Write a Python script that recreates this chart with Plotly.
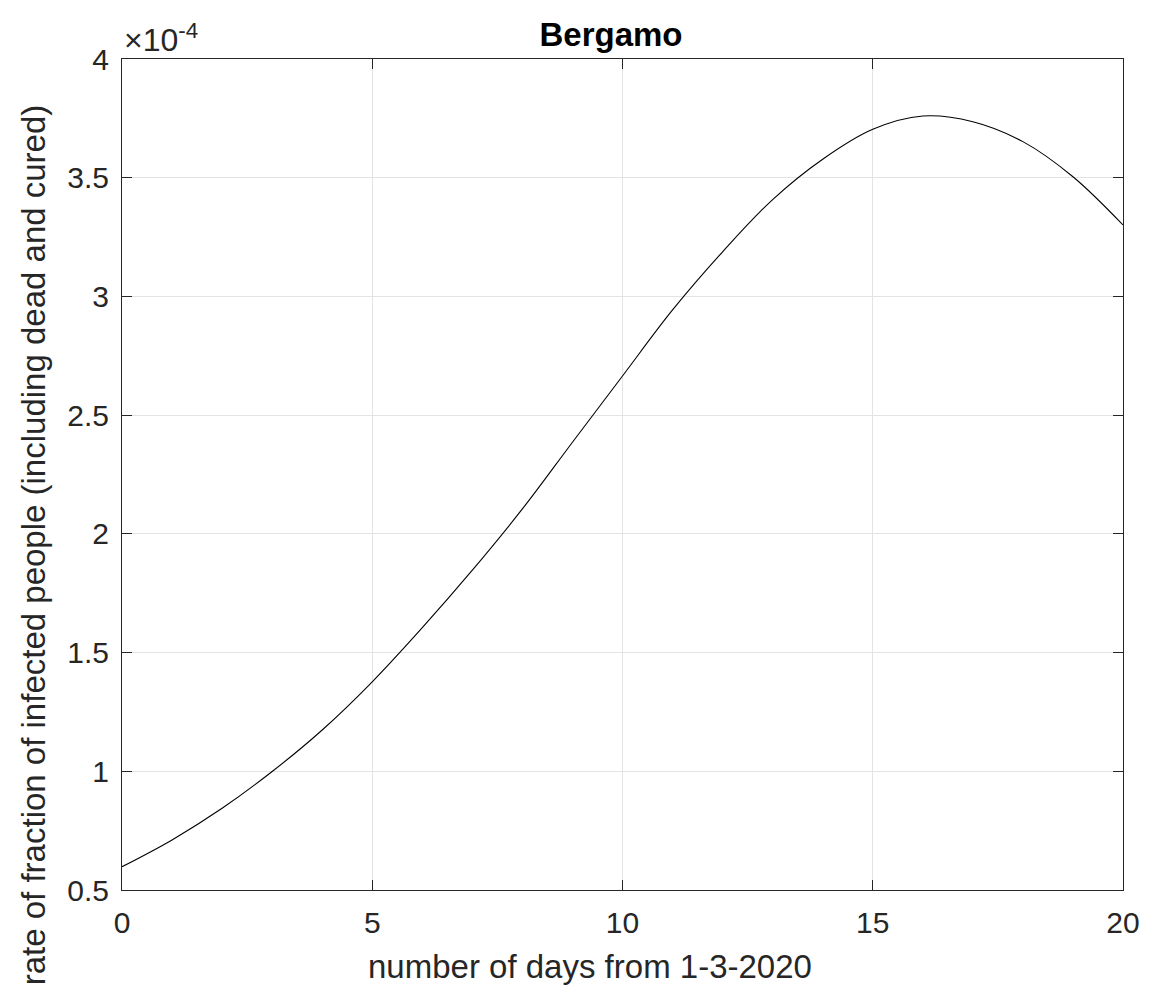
import plotly.graph_objects as go

# Data (values in units of 1e-4)
days = [0, 1, 2, 3, 4, 5, 6, 7, 8, 9, 10, 11, 12, 13, 14, 15, 16, 17, 18, 19, 20]
rate = [0.598, 0.711, 0.844, 0.999, 1.174, 1.377, 1.605, 1.847, 2.105, 2.386, 2.665,
        2.943, 3.188, 3.408, 3.578, 3.704, 3.760, 3.736, 3.652, 3.504, 3.301]

x_ticks = [0, 5, 10, 15, 20]
y_ticks = [0.5, 1, 1.5, 2, 2.5, 3, 3.5, 4]
y_ticktext = ["0.5", "1", "1.5", "2", "2.5", "3", "3.5", "4"]

FONT = "Liberation Sans, Arial, Helvetica, sans-serif"
AX = "#262626"

# page has an 8px body margin; figure is sized to fill the 1152x1000 window
W, H = 1144, 992
OFF = 8
L, R, T, B = 122 - OFF, 1152 - 1126, 59 - OFF, (OFF + H) - 890
PW, PH = 1126 - 122, 890 - 59

fig = go.Figure()
fig.add_trace(go.Scatter(x=days, y=rate, mode="lines",
                         line=dict(color="black", width=1.1, shape="spline", smoothing=1.0),
                         showlegend=False, hoverinfo="skip"))

axis_common = dict(showline=True, linecolor=AX, linewidth=1, mirror="ticks",
                   ticks="inside", ticklen=10, tickcolor=AX, tickwidth=1,
                   showgrid=True, gridcolor="#e3e3e3", gridwidth=1, zeroline=False,
                   tickfont=dict(family=FONT, size=30, color=AX))

fig.update_layout(
    width=W, height=H,
    paper_bgcolor="white", plot_bgcolor="white",
    margin=dict(l=L, r=R, t=T, b=B),
    title=dict(text="<b>Bergamo</b>", x=(611 - OFF) / W, xanchor="center",
               y=1 - (34 - OFF) / H, yanchor="middle",
               font=dict(family=FONT, size=33, color="black")),
    xaxis=dict(range=[0, 20], tickvals=x_ticks, ticklabelstandoff=6, **axis_common),
    yaxis=dict(range=[0.5, 4], tickvals=y_ticks, ticktext=y_ticktext,
               ticklabelstandoff=6, **axis_common),
)

# x-axis label
fig.add_annotation(text="number of days from 1-3-2020",
                   xref="paper", yref="paper", x=(591 - 122) / PW, y=-(966 - 890) / PH,
                   xanchor="center", yanchor="middle", showarrow=False,
                   font=dict(family=FONT, size=33, color=AX))

# y-axis label
fig.add_annotation(text="rate of fraction of infected people (including dead and cured)",
                   xref="paper", yref="paper", x=(33 - 122) / PW, y=(890 - 545) / PH,
                   xanchor="center", yanchor="middle", textangle=-90, showarrow=False,
                   font=dict(family=FONT, size=33, color=AX))

# exponent label
fig.add_annotation(text="×10<sup>-4</sup>", xref="paper", yref="paper",
                   x=0, y=1, xanchor="left", yanchor="bottom", yshift=-1, showarrow=False,
                   font=dict(family=FONT, size=32, color=AX))

fig.write_html("out.html")
